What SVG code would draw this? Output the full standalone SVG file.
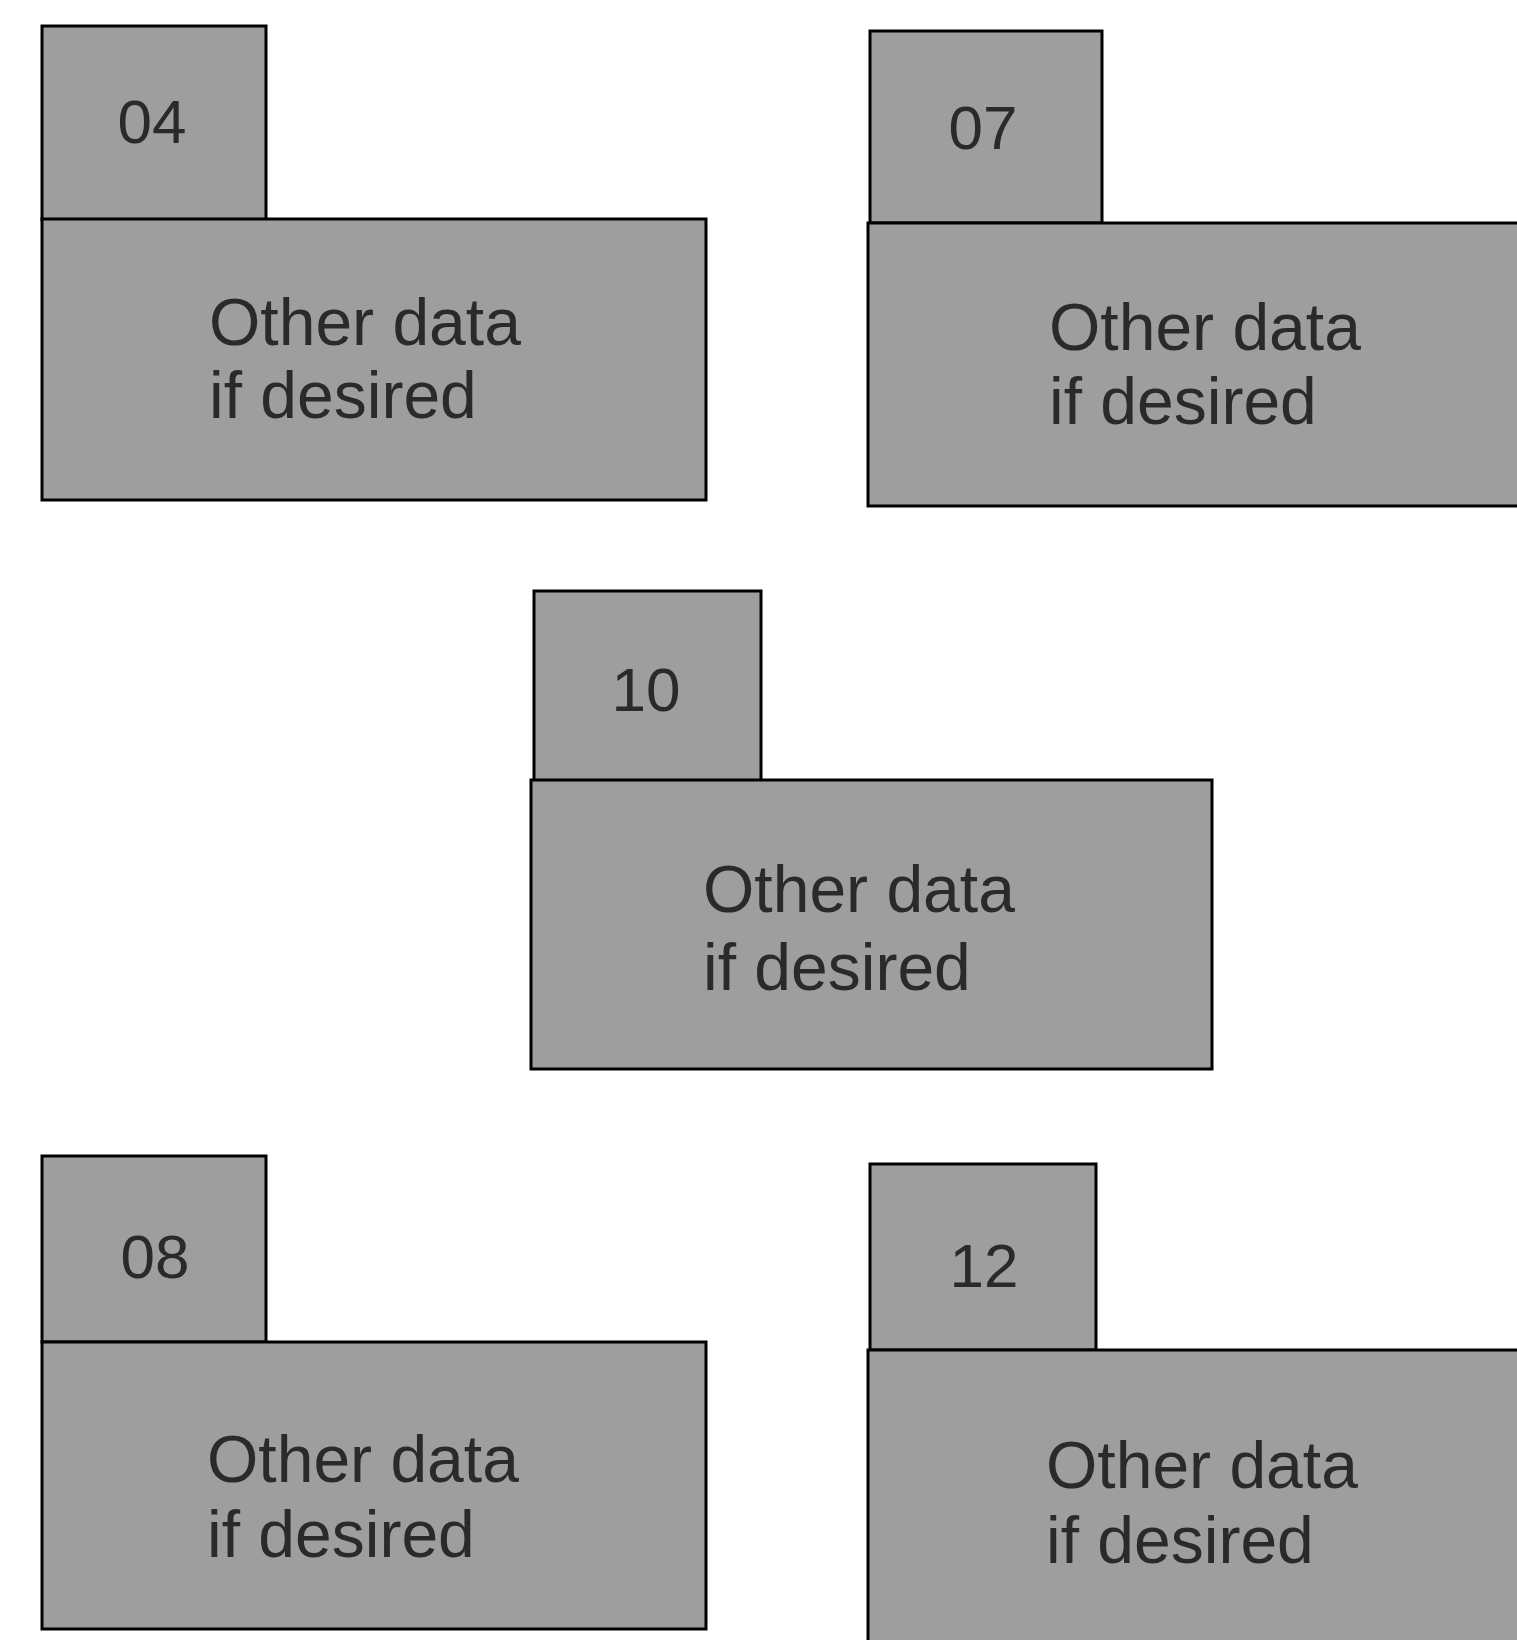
<svg xmlns="http://www.w3.org/2000/svg" width="1517" height="1640" viewBox="0 0 1517 1640">
<style>
.box{fill:#9e9e9e;stroke:#000;stroke-width:3}
.lbl{font-family:"Liberation Sans",Arial,sans-serif;font-size:62px;fill:#2a2a2a;text-anchor:middle}
.txt{font-family:"Liberation Sans",Arial,sans-serif;font-size:66px;fill:#2a2a2a}
</style>
<rect width="1517" height="1640" fill="#fff"/>
<g id="connectors"/>
<g id="node-04">
<rect class="box" x="42" y="26" width="224" height="194"/>
<rect class="box" x="42" y="219" width="664" height="281"/>
<text class="lbl" x="152" y="143">04</text>
<text class="txt" x="209" y="345">Other data</text>
<text class="txt" x="209" y="418">if desired</text>
</g>
<g id="node-07">
<rect class="box" x="870" y="31" width="232" height="192"/>
<rect class="box" x="868" y="223" width="670" height="283"/>
<text class="lbl" x="983" y="149">07</text>
<text class="txt" x="1049" y="350">Other data</text>
<text class="txt" x="1049" y="424">if desired</text>
</g>
<g id="node-10">
<rect class="box" x="534" y="591" width="227" height="192"/>
<rect class="box" x="531" y="780" width="681" height="289"/>
<text class="lbl" x="646" y="711">10</text>
<text class="txt" x="703" y="912">Other data</text>
<text class="txt" x="703" y="990">if desired</text>
</g>
<g id="node-08">
<rect class="box" x="42" y="1156" width="224" height="186"/>
<rect class="box" x="42" y="1342" width="664" height="287"/>
<text class="lbl" x="155" y="1278">08</text>
<text class="txt" x="207" y="1482">Other data</text>
<text class="txt" x="207" y="1557">if desired</text>
</g>
<g id="node-12">
<rect class="box" x="870" y="1164" width="226" height="186"/>
<rect class="box" x="868" y="1350" width="670" height="300"/>
<text class="lbl" x="984" y="1287">12</text>
<text class="txt" x="1046" y="1488">Other data</text>
<text class="txt" x="1046" y="1563">if desired</text>
</g>
</svg>
